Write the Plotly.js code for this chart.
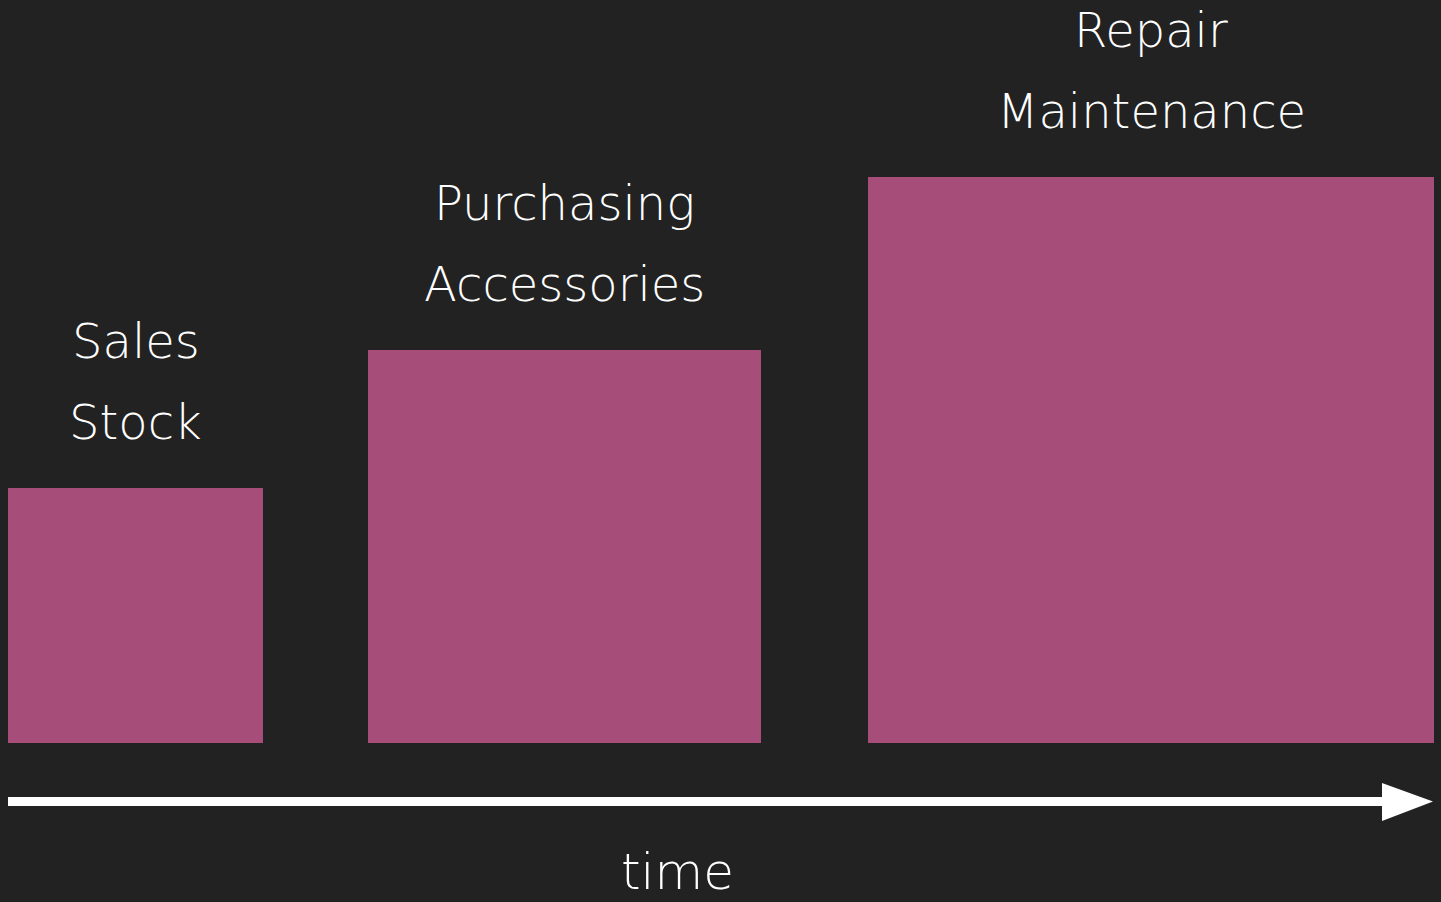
<!DOCTYPE html>
<html>
<head>
<meta charset="utf-8">
<script src="https://cdn.plot.ly/plotly-3.0.1.min.js"></script>
<style>html,body{margin:0;padding:0;background:#222222;overflow:hidden}#chart{width:1441px;height:902px}</style>
</head>
<body>
<div id="chart"></div>
<script>
// Data
const stages = ["Stage 1", "Stage 2", "Stage 3"];
const lowerLabels = ["Stock", "Accessories", "Maintenance"];
const upperLabels = ["Sales", "Purchasing", "Repair"];
const starts = [8, 368, 868];
const sizes = [255, 393, 566];
const axisLabel = "time";

const FONT = "'DejaVu Sans', sans-serif";
const centers = starts.map((s, i) => s + sizes[i] / 2);

const trace = {
  type: "bar",
  x: centers,
  y: sizes,
  width: sizes,
  base: 0,
  marker: { color: "#a64d79", line: { width: 0 } },
  hoverinfo: "skip",
  text: stages,
  textposition: "none"
};

const annotations = [];
centers.forEach((c, i) => {
  annotations.push({
    x: c, y: sizes[i] + 65.5, xref: "x", yref: "y",
    text: lowerLabels[i], showarrow: false, xanchor: "center", yanchor: "middle",
    font: { family: FONT, size: 48, color: "#ffffff", weight: 200 }
  });
  annotations.push({
    x: c, y: sizes[i] + 147, xref: "x", yref: "y",
    text: upperLabels[i], showarrow: false, xanchor: "center", yanchor: "middle",
    font: { family: FONT, size: 48, color: "#ffffff", weight: 200 }
  });
});
annotations.push({
  x: 677, y: -129.5, xref: "x", yref: "y",
  text: axisLabel, showarrow: false, xanchor: "center", yanchor: "middle",
  font: { family: FONT, size: 50, color: "#ffffff", weight: 200 }
});

const shapes = [
  { type: "line", xref: "x", yref: "y", x0: 8, x1: 1384, y0: -59, y1: -59,
    line: { color: "#ffffff", width: 9 } },
  { type: "path", xref: "x", yref: "y", path: "M 1382 -40.5 L 1433 -59 L 1382 -78.5 Z",
    fillcolor: "#ffffff", line: { width: 0 } }
];

const layout = {
  width: 1441, height: 902,
  margin: { l: 0, r: 0, t: 0, b: 0, pad: 0 },
  paper_bgcolor: "#222222",
  plot_bgcolor: "#222222",
  showlegend: false,
  xaxis: { range: [0, 1441], visible: false, fixedrange: true },
  yaxis: { range: [-159.5, 742.5], visible: false, fixedrange: true },
  annotations: annotations,
  shapes: shapes,
  bargap: 0
};

Plotly.newPlot("chart", [trace], layout, { displayModeBar: false, staticPlot: true });
</script>
</body>
</html>
